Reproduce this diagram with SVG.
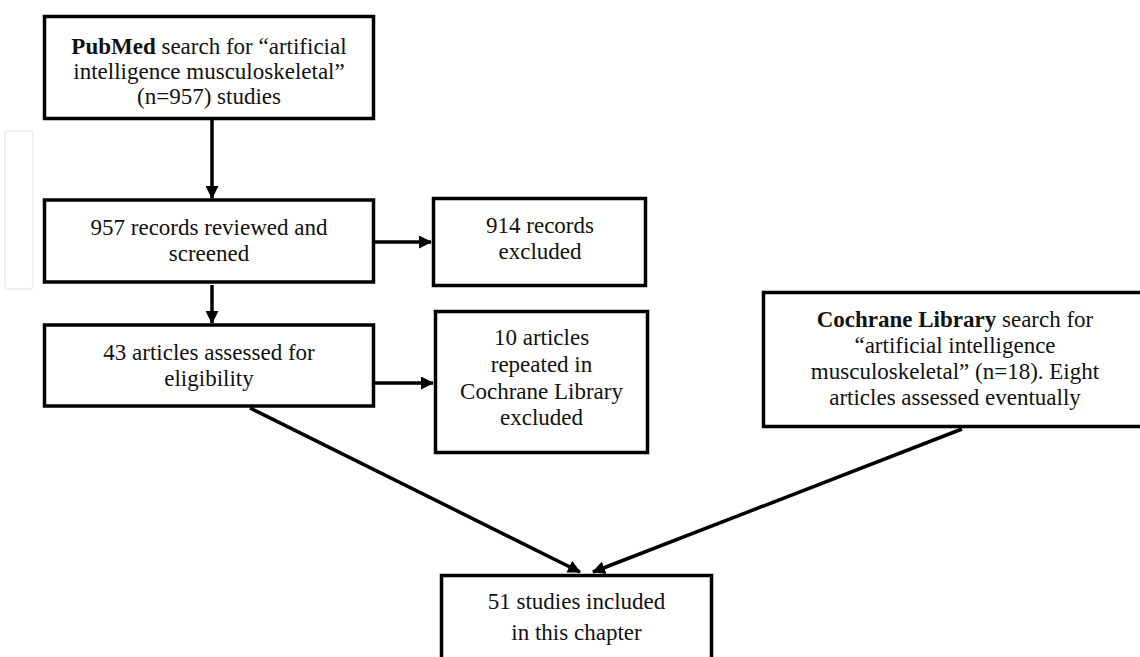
<svg xmlns="http://www.w3.org/2000/svg" width="1140" height="657" viewBox="0 0 1140 657">
<style>
.box{fill:#fff;stroke:#000;stroke-width:3.5}
.t{font-family:"Liberation Serif","Times New Roman",serif;font-size:23px;fill:#111;text-anchor:middle}
.c{stroke:#000;stroke-width:3.5;fill:none;marker-end:url(#ah)}
</style>
<defs>
<marker id="ah" viewBox="0 0 13 13" refX="12" refY="6.5" markerWidth="13" markerHeight="13" markerUnits="userSpaceOnUse" orient="auto">
<path d="M0,0 L13,6.5 L0,13 Z" fill="#000"/>
</marker>
</defs>
<rect x="5" y="131" width="28" height="158" rx="3" fill="none" stroke="#f0f0f0" stroke-width="2"/>
<g id="connectors">
<line class="c" x1="212" y1="120" x2="212" y2="198"/>
<line class="c" x1="212" y1="285" x2="212" y2="323"/>
<line class="c" x1="374" y1="242" x2="431" y2="242"/>
<line class="c" x1="374" y1="383" x2="433" y2="383"/>
<line class="c" x1="250" y1="408" x2="580" y2="572"/>
<line class="c" x1="962" y1="429" x2="593" y2="572"/>
</g>
<g id="pubmed">
<rect class="box" x="44.5" y="16.5" width="329" height="102"/>
<text class="t" x="209" y="54"><tspan font-weight="bold">PubMed</tspan> search for “artificial</text>
<text class="t" x="209" y="79">intelligence musculoskeletal”</text>
<text class="t" x="209" y="104">(n=957) studies</text>
</g>
<g id="screened">
<rect class="box" x="44.5" y="200" width="329" height="82"/>
<text class="t" x="209" y="235">957 records reviewed and</text>
<text class="t" x="209" y="261">screened</text>
</g>
<g id="excluded914">
<rect class="box" x="433.5" y="198.5" width="212" height="87"/>
<text class="t" x="540" y="233">914 records</text>
<text class="t" x="540" y="259">excluded</text>
</g>
<g id="eligibility">
<rect class="box" x="44.5" y="325" width="329" height="81"/>
<text class="t" x="209" y="360">43 articles assessed for</text>
<text class="t" x="209" y="386">eligibility</text>
</g>
<g id="repeated">
<rect class="box" x="435.5" y="311.5" width="212" height="141"/>
<text class="t" x="541.5" y="345">10 articles</text>
<text class="t" x="541.5" y="372">repeated in</text>
<text class="t" x="541.5" y="399">Cochrane Library</text>
<text class="t" x="541.5" y="425">excluded</text>
</g>
<g id="cochrane">
<rect class="box" x="763.5" y="292.5" width="390" height="134"/>
<text class="t" x="955" y="327"><tspan font-weight="bold">Cochrane Library</tspan> search for</text>
<text class="t" x="955" y="353">“artificial intelligence</text>
<text class="t" x="955" y="379">musculoskeletal” (n=18). Eight</text>
<text class="t" x="955" y="405">articles assessed eventually</text>
</g>
<g id="included">
<rect class="box" x="441.5" y="575.5" width="270" height="100"/>
<text class="t" x="576.5" y="609">51 studies included</text>
<text class="t" x="576.5" y="640">in this chapter</text>
</g>
</svg>
